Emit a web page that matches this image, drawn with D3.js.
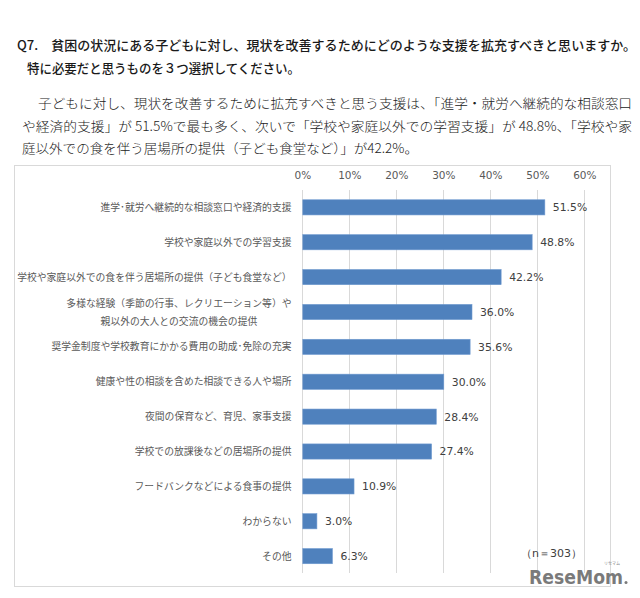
<!DOCTYPE html>
<html><head><meta charset="utf-8">
<script src="https://cdn.jsdelivr.net/npm/d3@7"></script>
<style>
html,body{margin:0;padding:0;background:#fff;}
svg{display:block;}
</style></head>
<body>
<script>
const titleLines = [
  "Q7.\u3000貧困の状況にある子どもに対し、現状を改善するためにどのような支援を拡充すべきと思いますか。",
  "特に必要だと思うものを３つ選択してください。"
];
const paraLines = [
  "子どもに対し、現状を改善するために拡充すべきと思う支援は、「進学・就労へ継続的な相談窓口",
  "や経済的支援」が 51.5%で最も多く、次いで「学校や家庭以外での学習支援」が 48.8%、「学校や家",
  "庭以外での食を伴う居場所の提供（子ども食堂など）」が42.2%。"
];
const categories = [
  "進学･就労へ継続的な相談窓口や経済的支援",
  "学校や家庭以外での学習支援",
  "学校や家庭以外での食を伴う居場所の提供（子ども食堂など）",
  "多様な経験（季節の行事、レクリエーション等）や\n親以外の大人との交流の機会の提供",
  "奨学金制度や学校教育にかかる費用の助成･免除の充実",
  "健康や性の相談を含めた相談できる人や場所",
  "夜間の保育など、育児、家事支援",
  "学校での放課後などの居場所の提供",
  "フードバンクなどによる食事の提供",
  "わからない",
  "その他"
];
const values = [51.5, 48.8, 42.2, 36.0, 35.6, 30.0, 28.4, 27.4, 10.9, 3.0, 6.3];
const tickValues = [0, 10, 20, 30, 40, 50, 60];
const nLabel = "（n＝303）";

const W = 640, H = 598;
const svg = d3.select("body").append("svg").attr("width", W).attr("height", H);
const cjk = "'Noto Sans CJK JP','Noto Sans',sans-serif";
const num = "'DejaVu Sans',Verdana,sans-serif";

// Title
const tPos = [{x:17, y:50, w:619}, {x:27, y:73, w:273}];
titleLines.forEach((t,i)=>{
  svg.append("text").attr("x", tPos[i].x).attr("y", tPos[i].y)
    .attr("font-family", cjk).attr("font-size", 13).attr("font-weight", 500)
    .attr("fill", "#1a1a1a").attr("textLength", tPos[i].w).attr("lengthAdjust","spacingAndGlyphs")
    .text(t);
});
// Paragraph
const pPos = [{x:38, y:108, w:594}, {x:22, y:131, w:610}, {x:22, y:153, w:396}];
paraLines.forEach((t,i)=>{
  svg.append("text").attr("x", pPos[i].x).attr("y", pPos[i].y)
    .attr("font-family", cjk).attr("font-size", 13).attr("font-weight", 300)
    .attr("fill", "#222").attr("textLength", pPos[i].w).attr("lengthAdjust","spacingAndGlyphs")
    .text(t);
});

// Chart box
svg.append("rect").attr("x", 14.5).attr("y", 165.5).attr("width", 596).attr("height", 421)
  .attr("fill", "none").attr("stroke", "#d9d9d9").attr("stroke-width", 1);

const x = d3.scaleLinear().domain([0, 60]).range([302.3, 584.3]);
const y = d3.scaleBand().domain(categories).range([190, 573.5]).paddingInner(0.565).paddingOuter(0.28);

// Gridlines
svg.append("g").selectAll("line").data(tickValues).join("line")
  .attr("x1", d=>Math.round(x(d))+0.5).attr("x2", d=>Math.round(x(d))+0.5)
  .attr("y1", 190).attr("y2", 573)
  .attr("stroke", "#d9d9d9").attr("stroke-width", 1);

// Top axis labels
const axis = d3.axisTop(x).tickValues(tickValues).tickFormat(d=>d+"%").tickSize(0).tickPadding(0);
const ag = svg.append("g").attr("transform", "translate(0,179)").call(axis);
ag.select(".domain").remove();
ag.selectAll("text").attr("font-family", num).attr("font-size", 10.5).attr("fill", "#595959");

// Bars
svg.append("g").selectAll("rect").data(values).join("rect")
  .attr("x", x(0)+0.5)
  .attr("y", (d,i)=>y(categories[i]))
  .attr("width", d=>x(d)-x(0))
  .attr("height", y.bandwidth())
  .attr("fill", "#4f81bd").attr("stroke", "#6f9ad0").attr("stroke-width", 0.6);

// Value labels
svg.append("g").selectAll("text").data(values).join("text")
  .attr("x", d=>x(d)+8.5)
  .attr("y", (d,i)=>y(categories[i]) + y.bandwidth()/2)
  .attr("dy", "0.36em")
  .attr("font-family", num).attr("font-size", 10.8).attr("fill", "#404040")
  .text(d=>d.toFixed(1)+"%");

// Category labels
const labelRight = 291.5;
categories.forEach((c,i)=>{
  const cy = y(c) + y.bandwidth()/2;
  const parts = c.split("\n");
  if (parts.length === 1) {
    svg.append("text").attr("x", labelRight).attr("y", cy).attr("dy","0.36em")
      .attr("text-anchor","end").attr("font-family", cjk).attr("font-size", 9.8)
      .attr("fill","#595959").text(c);
  } else {
    const t1 = svg.append("text").attr("font-family", cjk).attr("font-size", 9.8)
      .attr("fill","#595959").text(parts[0]);
    const w1 = t1.node().getComputedTextLength();
    const cx = labelRight - w1/2;
    t1.attr("x", cx).attr("y", cy - 9).attr("dy","0.36em").attr("text-anchor","middle");
    svg.append("text").attr("x", cx).attr("y", cy + 9).attr("dy","0.36em")
      .attr("text-anchor","middle").attr("font-family", cjk).attr("font-size", 9.8)
      .attr("fill","#595959").text(parts[1]);
  }
});

// n label
svg.append("text").attr("x", 521).attr("y", 557).attr("font-family", num)
  .attr("font-size", 11).attr("fill", "#404040").text(nLabel);

// Logo
svg.append("text").attr("x", 529).attr("y", 584).attr("font-family", "'DejaVu Sans',sans-serif")
  .attr("font-weight","bold").attr("font-size", 20).attr("fill","#7a7a7a")
  .attr("textLength", 94).attr("lengthAdjust","spacingAndGlyphs").text("ReseMom");
svg.append("text").attr("x", 612).attr("y", 565).attr("font-family", cjk)
  .attr("font-size", 4).attr("fill","#888").attr("text-anchor","middle").text("リセマム");
svg.append("circle").attr("cx", 626).attr("cy", 582.5).attr("r", 1.5).attr("fill","#7a7a7a");
</script>
</body></html>
